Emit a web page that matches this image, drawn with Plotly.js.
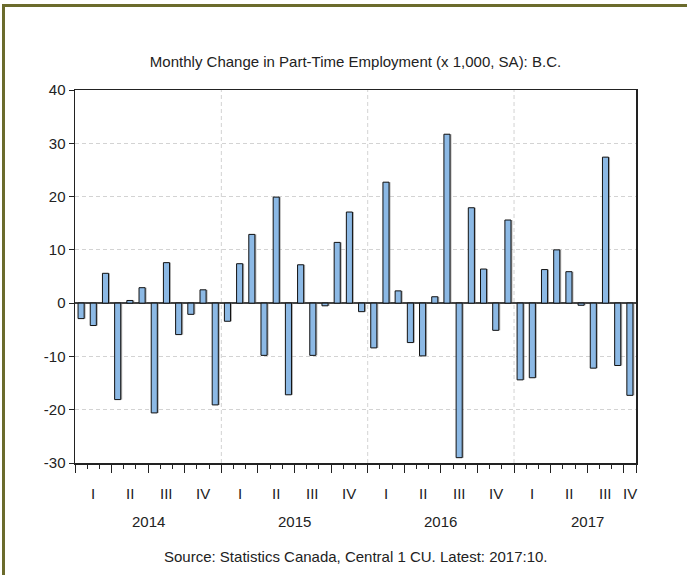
<!DOCTYPE html>
<html>
<head>
<meta charset="utf-8">
<script src="https://cdn.plot.ly/plotly-3.0.1.min.js"></script>
<style>
  html, body { margin: 0; padding: 0; background: #fff; }
  #wrap { position: relative; width: 687px; height: 575px; overflow: hidden; }
  #chart { position: absolute; left: 0; top: 0; width: 687px; height: 575px; }
  .bt { position: absolute; left: 2px; top: 4px; width: 685px; height: 3px; background: #6b6b2c; }
  .bl { position: absolute; left: 2px; top: 4px; width: 3px; height: 571px; background: #6b6b2c; }
</style>
</head>
<body>
<div id="wrap">
  <div id="chart"></div>
  <div class="bt"></div>
  <div class="bl"></div>
</div>
<script>
// ---- Data (monthly, Jan 2014 .. Oct 2017) ----
const years = ['2014', '2015', '2016', '2017'];
const quarterLabels = ['I', 'II', 'III', 'IV'];
const changes2014 = [-2.9, -4.2, 5.6, -18.1, 0.5, 2.9, -20.6, 7.6, -5.9, -2.1, 2.5, -19.1];
const changes2015 = [-3.4, 7.4, 12.9, -9.8, 19.9, -17.2, 7.2, -9.8, -0.5, 11.4, 17.1, -1.6];
const changes2016 = [-8.4, 22.7, 2.3, -7.4, -9.9, 1.2, 31.7, -29.0, 17.9, 6.4, -5.1, 15.6];
const changes2017 = [-14.4, -14.0, 6.3, 10.0, 5.9, -0.4, -12.2, 27.4, -11.7, -17.3];
const changes = [].concat(changes2014, changes2015, changes2016, changes2017);
const yTickValues = [-30, -20, -10, 0, 10, 20, 30, 40];

const titleText = 'Monthly Change in Part-Time Employment (x 1,000, SA): B.C.';
const sourceText = 'Source: Statistics Canada, Central 1 CU. Latest: 2017:10.';

// ---- Derived positions (month index scale) ----
const n = changes.length;
const xs = changes.map((_, i) => i + 0.5);

const quarterStarts = [];
for (let q = 0; q * 3 < n; q++) quarterStarts.push(q * 3);
const quarterCenters = quarterStarts.map(s => (s + Math.min(s + 3, n)) / 2);

const fontFam = '"Liberation Sans", Arial, sans-serif';
const txtColor = '#222';
const fs = 15;

const annotations = [];
quarterCenters.forEach((c, i) => {
  annotations.push({
    x: c, xref: 'x', y: 0, yref: 'paper', yshift: -30,
    text: quarterLabels[i % 4], showarrow: false,
    xanchor: 'center', yanchor: 'middle',
    font: { family: fontFam, size: fs, color: txtColor }
  });
});
years.forEach((yr, k) => {
  annotations.push({
    x: 12 * k + 6, xref: 'x', y: 0, yref: 'paper', yshift: -58,
    text: yr, showarrow: false, xanchor: 'center', yanchor: 'middle',
    font: { family: fontFam, size: fs, color: txtColor }
  });
});
annotations.push({
  x: 0.5, xref: 'paper', y: 0, yref: 'paper', yshift: -93,
  text: sourceText, showarrow: false, xanchor: 'center', yanchor: 'middle',
  font: { family: fontFam, size: fs, color: txtColor }
});

const shapes = years.slice(1).map((_, k) => ({
  type: 'line', xref: 'x', yref: 'paper',
  x0: 12 * (k + 1), x1: 12 * (k + 1), y0: 0, y1: 1,
  line: { color: '#d3d3d3', width: 1, dash: '4px,3px' }, layer: 'below'
}));

const shadow = {
  type: 'bar', x: xs, y: changes, width: 0.5, offset: -0.25 + 0.12,
  marker: { color: 'rgba(110,110,110,0.55)', line: { width: 0 } },
  hoverinfo: 'skip', showlegend: false
};
const bars = {
  type: 'bar', x: xs, y: changes, width: 0.5,
  marker: { color: '#8cb9e5', line: { color: '#111', width: 1 } },
  showlegend: false
};

const layout = {
  width: 687, height: 575,
  margin: { l: 75, r: 51, t: 90, b: 112, pad: 0 },
  paper_bgcolor: '#fff', plot_bgcolor: '#fff',
  barmode: 'overlay',
  font: { family: fontFam, size: fs, color: txtColor },
  title: {
    text: titleText, xref: 'paper', x: 0.5, xanchor: 'center',
    yref: 'container', y: 1 - 62 / 575, yanchor: 'middle',
    font: { family: fontFam, size: fs, color: txtColor }
  },
  xaxis: {
    range: [0, n], fixedrange: true,
    tickmode: 'array', tickvals: quarterStarts.concat([n]),
    ticks: 'outside', ticklen: 8, tickwidth: 1, tickcolor: '#222',
    showticklabels: false, showgrid: false, zeroline: false,
    showline: true, linecolor: '#222', linewidth: 1.5, mirror: true,
    minor: { tickmode: 'linear', tick0: 0, dtick: 1, ticks: 'outside', ticklen: 4, tickwidth: 1, tickcolor: '#222', showgrid: false }
  },
  yaxis: {
    range: [-30, 40], fixedrange: true,
    tickmode: 'array', tickvals: yTickValues, ticktext: yTickValues.map(v => String(v)),
    ticks: 'outside', ticklen: 5, tickwidth: 1, tickcolor: '#222',
    tickfont: { family: fontFam, size: fs, color: txtColor },
    showgrid: true, gridcolor: '#d3d3d3', gridwidth: 1, griddash: '4px,3px',
    zeroline: true, zerolinecolor: '#444', zerolinewidth: 1.5,
    showline: true, linecolor: '#222', linewidth: 1.5, mirror: true
  },
  annotations: annotations,
  shapes: shapes
};

Plotly.newPlot('chart', [shadow, bars], layout, { staticPlot: true, displayModeBar: false });
</script>
</body>
</html>
